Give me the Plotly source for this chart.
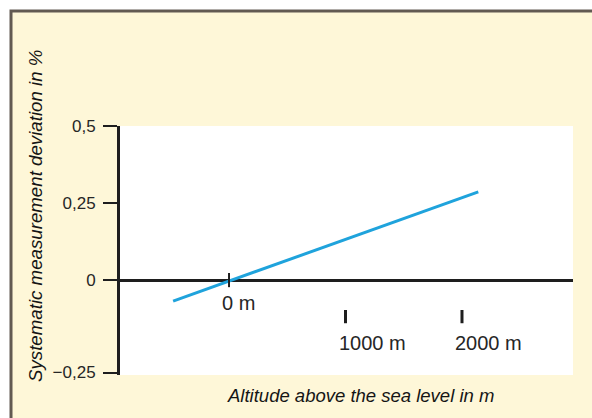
import plotly.graph_objects as go

# ---- data ----
altitude_m = [-480, 2140]
deviation_pct = [-0.068, 0.286]

alt_ticks = [0, 1000, 2000]
alt_labels = ["0 m", "1000 m", "2000 m"]

ytick_pos = [-0.3, 0, 0.25, 0.5]
ytick_text = ["\u22120,25", "0", "0,25", "0,5"]

y_title = "Systematic measurement deviation in %"
x_title = "Altitude above the sea level in m"

# ---- layout constants ----
W, H = 592, 418
ML, MR, MT, MB = 120, 19, 126, 43
PW, PH = W - ML - MR, H - MT - MB

def px_x(p):  # window pixel -> paper x
    return (p - ML) / PW

def px_y(p):  # window pixel -> paper y
    return (H - MB - p) / PH

FONT = "Liberation Sans, Arial, Helvetica, sans-serif"
CREAM = "#fef7d8"
BORDER = "#625a52"
BLUE = "#1fa3dc"
DARK = "#1e1e1e"
LABEL = "#262626"

fig = go.Figure()
fig.add_trace(go.Scatter(
    x=altitude_m, y=deviation_pct, mode="lines",
    line=dict(color=BLUE, width=3), hoverinfo="skip", showlegend=False,
))

shapes = [
    dict(type="rect", xref="paper", yref="paper",
         x0=px_x(11), x1=px_x(640), y0=px_y(470), y1=px_y(11),
         fillcolor=CREAM, line=dict(color=BORDER, width=3), layer="below"),
    dict(type="rect", xref="paper", yref="paper",
         x0=0, x1=1, y0=0, y1=1, fillcolor="white",
         line=dict(width=0), layer="below"),
]

annotations = []
for v, lab in zip(alt_ticks, alt_labels):
    if v == 0:
        y0, y1, ylab, w = -0.023, 0.023, -0.075, 2
    else:
        y0, y1, ylab, w = -0.14, -0.097, -0.205, 3
    shapes.append(dict(type="line", xref="x", yref="y", x0=v, x1=v, y0=y0, y1=y1,
                       line=dict(color=DARK, width=w)))
    annotations.append(dict(x=v, y=ylab, xref="x", yref="y", text=lab,
                            showarrow=False, xanchor="left", yanchor="middle",
                            xshift=-9,
                            font=dict(family=FONT, size=20, color=LABEL)))

annotations.append(dict(x=px_x(35), y=px_y(216), xref="paper", yref="paper",
                        text="<i>" + y_title + "</i>", textangle=-90,
                        showarrow=False, xanchor="center", yanchor="middle",
                        font=dict(family=FONT, size=18.7, color="#151515")))
annotations.append(dict(x=px_x(360), y=px_y(395), xref="paper", yref="paper",
                        text="<i>" + x_title + "</i>",
                        showarrow=False, xanchor="center", yanchor="middle",
                        font=dict(family=FONT, size=18.5, color="#151515")))

fig.update_layout(
    width=W, height=H,
    margin=dict(l=ML, r=MR, t=MT, b=MB, pad=0),
    paper_bgcolor="white", plot_bgcolor="rgba(0,0,0,0)",
    shapes=shapes, annotations=annotations, showlegend=False,
    xaxis=dict(range=[-936, 2953], showgrid=False, showticklabels=False,
               ticks="", showline=False, zeroline=False, fixedrange=True),
    yaxis=dict(range=[-0.308, 0.5], showgrid=False,
               tickvals=ytick_pos, ticktext=ytick_text,
               ticks="outside", ticklen=14, tickwidth=2, tickcolor=DARK,
               ticklabelstandoff=4,
               showline=True, linecolor=DARK, linewidth=3,
               zeroline=True, zerolinecolor=DARK, zerolinewidth=3,
               tickfont=dict(family=FONT, size=17, color=LABEL),
               fixedrange=True),
)

fig.write_html(
    "out.html",
    config={"displayModeBar": False},
    post_script="document.body.style.margin='0';"
                "document.body.style.overflow='hidden';"
                "document.documentElement.style.overflow='hidden';",
)
